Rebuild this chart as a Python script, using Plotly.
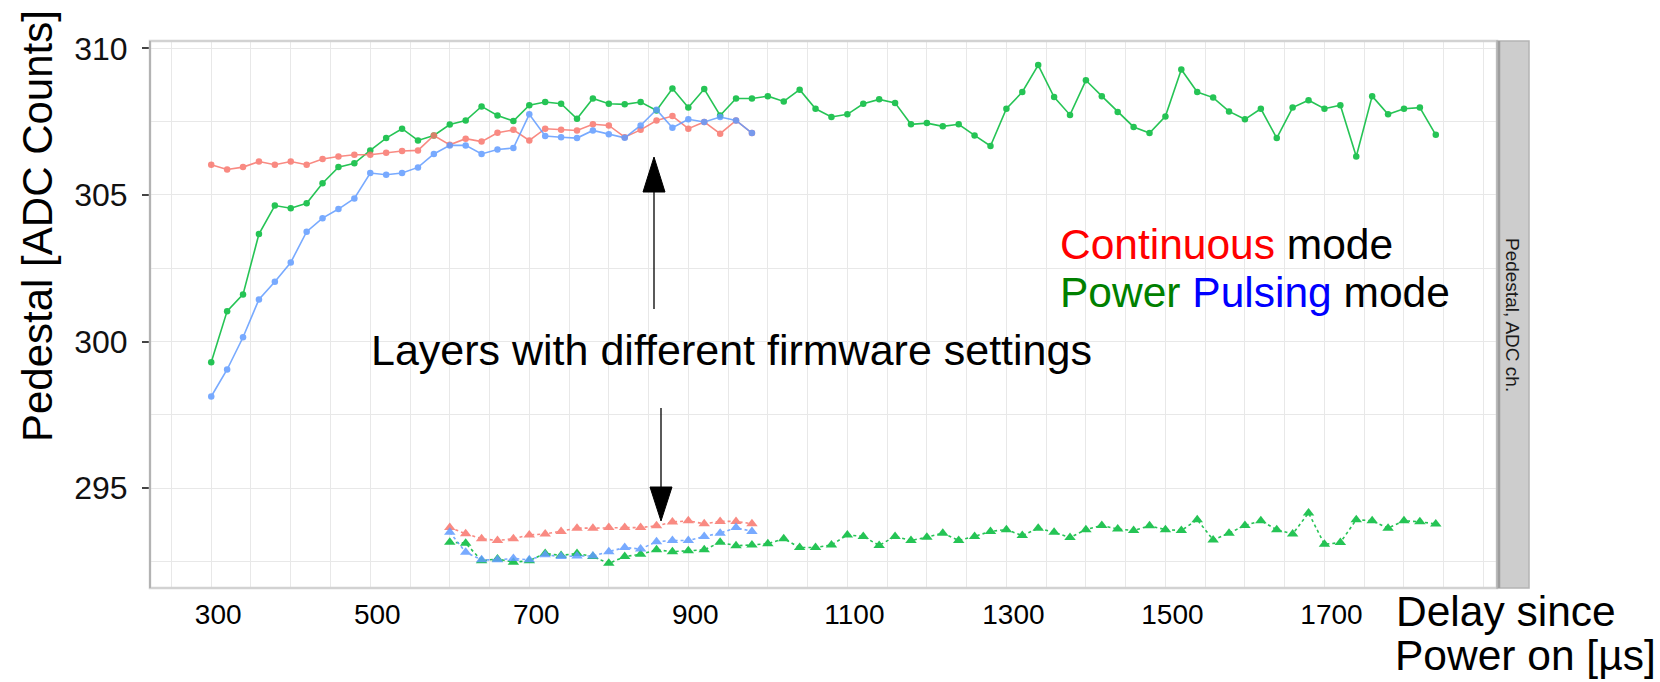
import plotly.graph_objects as go

# ---------------- data ----------------
x_upper_short = [300, 320, 340, 360, 380, 400, 420, 440, 460, 480, 500, 520, 540, 560, 580, 600, 620, 640,
                 660, 680, 700, 720, 740, 760, 780, 800, 820, 840, 860, 880, 900, 920, 940, 960, 980]
x_upper_long = [300, 320, 340, 360, 380, 400, 420, 440, 460, 480, 500, 520, 540, 560, 580, 600, 620, 640,
                660, 680, 700, 720, 740, 760, 780, 800, 820, 840, 860, 880, 900, 920, 940, 960, 980,
                1000, 1020, 1040, 1060, 1080, 1100, 1120, 1140, 1160, 1180, 1200, 1220, 1240, 1260, 1280,
                1300, 1320, 1340, 1360, 1380, 1400, 1420, 1440, 1460, 1480, 1500, 1520, 1540, 1560, 1580,
                1600, 1620, 1640, 1660, 1680, 1700, 1720, 1740, 1760, 1780, 1800, 1820, 1840]
x_lower_short = [600, 620, 640, 660, 680, 700, 720, 740, 760, 780, 800, 820, 840, 860, 880, 900, 920, 940, 960, 980]
x_lower_long = [600, 620, 640, 660, 680, 700, 720, 740, 760, 780, 800, 820, 840, 860, 880, 900, 920, 940, 960, 980,
                1000, 1020, 1040, 1060, 1080, 1100, 1120, 1140, 1160, 1180, 1200, 1220, 1240, 1260, 1280,
                1300, 1320, 1340, 1360, 1380, 1400, 1420, 1440, 1460, 1480, 1500, 1520, 1540, 1560, 1580,
                1600, 1620, 1640, 1660, 1680, 1700, 1720, 1740, 1760, 1780, 1800, 1820, 1840]

continuous_upper = [306.03, 305.87, 305.95, 306.14, 306.03, 306.14, 306.03, 306.23, 306.31, 306.37,
                    306.37, 306.44, 306.50, 306.52, 307.03, 306.71, 306.92, 306.82, 307.12, 307.22,
                    306.86, 307.26, 307.22, 307.20, 307.41, 307.37, 306.97, 307.22, 307.54, 307.69,
                    307.26, 307.49, 307.09, 307.54, 307.11]
pulsing_upper = [298.13, 299.05, 300.15, 301.44, 302.04, 302.70, 303.75, 304.21, 304.52, 304.88,
                 305.75, 305.69, 305.75, 305.94, 306.40, 306.69, 306.69, 306.40, 306.55, 306.60,
                 307.75, 307.01, 306.97, 306.94, 307.20, 307.07, 306.95, 307.37, 307.91, 307.29,
                 307.58, 307.49, 307.66, 307.54, 307.11]
power_upper = [299.30, 301.04, 301.61, 303.67, 304.64, 304.55, 304.72, 305.40, 305.95, 306.08,
               306.52, 306.94, 307.26, 306.86, 307.03, 307.40, 307.54, 308.02, 307.71, 307.52,
               308.06, 308.17, 308.11, 307.60, 308.29, 308.11, 308.09, 308.17, 307.88, 308.63,
               307.98, 308.61, 307.71, 308.29, 308.29, 308.37, 308.19, 308.59, 307.94, 307.66,
               307.75, 308.11, 308.26, 308.14, 307.41, 307.45, 307.34, 307.41, 307.03, 306.67,
               307.94, 308.51, 309.43, 308.34, 307.73, 308.91, 308.37, 307.83, 307.32, 307.11,
               307.68, 309.28, 308.51, 308.32, 307.85, 307.58, 307.94, 306.94, 307.98, 308.23,
               307.94, 308.06, 306.31, 308.37, 307.75, 307.94, 307.98, 307.05]

continuous_lower = [293.66, 293.45, 293.28, 293.22, 293.28, 293.41, 293.44, 293.53, 293.64, 293.64,
                    293.66, 293.66, 293.66, 293.72, 293.85, 293.89, 293.79, 293.87, 293.87, 293.79]
pulsing_lower = [293.50, 292.82, 292.56, 292.56, 292.61, 292.56, 292.73, 292.67, 292.69, 292.69,
                 292.84, 292.98, 292.93, 293.18, 293.22, 293.22, 293.36, 293.47, 293.66, 293.53]
power_lower = [293.16, 293.13, 292.53, 292.59, 292.48, 292.53, 292.78, 292.71, 292.78, 292.67,
               292.44, 292.67, 292.75, 292.90, 292.84, 292.87, 292.90, 293.16, 293.04, 293.07,
               293.11, 293.28, 292.98, 292.98, 293.07, 293.41, 293.36, 293.05, 293.36, 293.22,
               293.33, 293.47, 293.22, 293.36, 293.53, 293.59, 293.39, 293.64, 293.50, 293.32,
               293.59, 293.73, 293.61, 293.56, 293.72, 293.59, 293.56, 293.93, 293.24, 293.47,
               293.73, 293.89, 293.59, 293.44, 294.16, 293.09, 293.15, 293.93, 293.89, 293.64,
               293.89, 293.86, 293.78]

x_tick_vals = [300, 500, 700, 900, 1100, 1300, 1500, 1700]
x_minor_vals = [250, 350, 400, 450, 550, 600, 650, 750, 800, 850, 950, 1000, 1050, 1150, 1200, 1250,
                1350, 1400, 1450, 1550, 1600, 1650, 1750, 1800, 1850, 1900]
y_tick_vals = [295, 300, 305, 310]
y_minor_vals = [292.5, 297.5, 302.5, 307.5]

RED = "#F8766D"
GREEN = "#00BA38"
BLUE = "#619CFF"

W, H = 1660, 682
L, R, T, B = 150, 1497, 41, 588  # panel pixel box


def px(xp):
    return (xp - L) / (R - L)


def py(yp):
    return (B - yp) / (B - T)


fig = go.Figure()

series = [
    (x_upper_long, power_upper, GREEN, "circle", "solid", 6.5),
    (x_upper_short, continuous_upper, RED, "circle", "solid", 6.5),
    (x_upper_short, pulsing_upper, BLUE, "circle", "solid", 6.5),
    (x_lower_long, power_lower, GREEN, "triangle-up", "dot", 10),
    (x_lower_short, continuous_lower, RED, "triangle-up", "dot", 10),
    (x_lower_short, pulsing_lower, BLUE, "triangle-up", "dot", 10),
]
for xs, ys, col, sym, dash, ms in series:
    fig.add_trace(go.Scatter(
        x=xs, y=ys, mode="lines+markers",
        line=dict(color=col, width=1.6, dash=dash),
        marker=dict(color=col, symbol=sym, size=ms, line=dict(width=0)),
        opacity=0.85, showlegend=False, hoverinfo="skip"))

grid_c = "#E8E8E8"
fig.update_layout(
    width=W, height=H,
    margin=dict(l=L, r=W - R, t=T, b=H - B),
    paper_bgcolor="white", plot_bgcolor="white",
    font=dict(family="Liberation Sans, Arial, sans-serif", color="black"),
    xaxis=dict(
        range=[223, 1917], tickmode="array", tickvals=x_tick_vals,
        ticktext=[str(v) for v in x_tick_vals],
        showgrid=True, gridcolor=grid_c, gridwidth=1,
        minor=dict(tickvals=x_minor_vals, showgrid=True, gridcolor=grid_c, gridwidth=1, ticks=""),
        ticks="", tickfont=dict(size=28, color="black"),
        ticklabelstandoff=7, ticklabelshift=7,
        zeroline=False, showline=False,
    ),
    yaxis=dict(
        range=[291.6, 310.25], tickmode="array", tickvals=y_tick_vals,
        ticktext=[str(v) for v in y_tick_vals],
        showgrid=True, gridcolor=grid_c, gridwidth=1,
        minor=dict(tickvals=y_minor_vals, showgrid=True, gridcolor=grid_c, gridwidth=1, ticks=""),
        ticks="outside", ticklen=7, tickcolor="#444444", tickwidth=1.5,
        tickfont=dict(size=32, color="#111111"), ticklabelstandoff=8,
        zeroline=False, showline=False,
    ),
)

shapes = []
# panel frame
shapes.append(dict(type="rect", xref="paper", yref="paper", x0=0, x1=1, y0=0, y1=1,
                   line=dict(color="#D2D2D2", width=2.5), fillcolor="rgba(0,0,0,0)", layer="above"))
shapes.append(dict(type="line", xref="paper", yref="paper", x0=0, x1=0, y0=0, y1=1,
                   line=dict(color="#A8A8A8", width=1.5), layer="above"))
# right strip
shapes.append(dict(type="rect", xref="paper", yref="paper", x0=px(1497), x1=px(1529), y0=0, y1=1,
                   line=dict(color="#B4B4B4", width=1.5), fillcolor="#CDCDCD", layer="above"))
shapes.append(dict(type="line", xref="paper", yref="paper", x0=px(1499), x1=px(1499), y0=0, y1=1,
                   line=dict(color="#9E9E9E", width=2.5), layer="above"))
# up arrow
shapes.append(dict(type="line", xref="paper", yref="paper", x0=px(654), x1=px(654), y0=py(309), y1=py(190),
                   line=dict(color="black", width=1.3)))
shapes.append(dict(type="path", xref="paper", yref="paper",
                   path=f"M {px(654)},{py(157)} L {px(643)},{py(192)} L {px(665)},{py(192)} Z",
                   fillcolor="black", line=dict(color="black", width=1)))
# down arrow
shapes.append(dict(type="line", xref="paper", yref="paper", x0=px(661), x1=px(661), y0=py(408), y1=py(489),
                   line=dict(color="black", width=1.3)))
shapes.append(dict(type="path", xref="paper", yref="paper",
                   path=f"M {px(661)},{py(521)} L {px(650)},{py(487)} L {px(672)},{py(487)} Z",
                   fillcolor="black", line=dict(color="black", width=1)))
fig.update_layout(shapes=shapes)

ann = []


def text(t, x, y, size, xanchor="left", yanchor="middle", angle=0, color="black"):
    ann.append(dict(text=t, x=px(x), y=py(y), xref="paper", yref="paper", showarrow=False,
                    xanchor=xanchor, yanchor=yanchor, textangle=angle,
                    font=dict(size=size, color=color, family="Liberation Sans, Arial, sans-serif")))


text("Pedestal [ADC Counts]", 37, 226, 42, xanchor="center", angle=-90)
text("Layers with different firmware settings", 369, 350, 43)
text("<span style='color:#FF0000'>Continuous</span> mode", 1058, 245, 42.5)
text("<span style='color:#008000'>Power</span> <span style='color:#0000FF'>Pulsing</span> mode", 1058, 292, 42.5)
text("Delay since", 1394, 611, 42.5)
text("Power on [µs]", 1393, 655, 42.5)
text("Pedestal, ADC ch.", 1513, 315, 19, xanchor="center", angle=90, color="#1A1A1A")
fig.update_layout(annotations=ann)

fig.write_html("out.html")
